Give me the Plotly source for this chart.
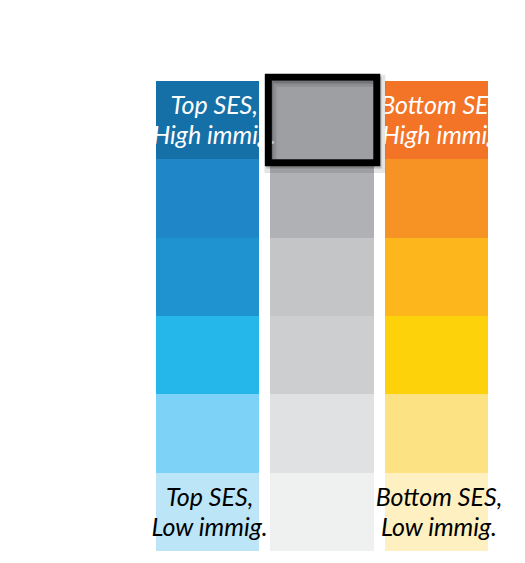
import plotly.graph_objects as go

columns = ["Top SES", "Middle", "Bottom SES"]
# rows from bottom (low immigration) to top (high immigration)
row_values = [1, 1, 1, 1, 1, 1]
blue = ["#bde5f8", "#7dd3f7", "#25b6ea", "#1e93d0", "#1f87c8", "#1670a8"]
gray = ["#eff0f0", "#e0e1e3", "#cdced0", "#c4c5c7", "#b0b1b5", "#9e9fa3"]
orange = ["#fef0c0", "#fde283", "#fdd20b", "#fdb71c", "#f79325", "#f37327"]

top_labels = [["Top SES,", "High immig."], None, ["Bottom SES,", "High immig."]]
bottom_labels = [["Top SES,", "Low immig."], None, ["Bottom SES,", "Low immig."]]
highlight_col = 1
highlight_row = 5

xs = list(range(len(columns)))
fig = go.Figure()
for i, v in enumerate(row_values):
    fig.add_trace(go.Bar(
        x=xs, y=[v] * len(xs),
        marker=dict(color=[blue[i], gray[i], orange[i]], line=dict(width=0)),
        hoverinfo="skip", showlegend=False,
    ))

LINE_OFF = 0.19  # half line spacing in row units
V_ADJ = 0.035    # small downward nudge of the label block

def add_label(c, yc, lines, color, dx):
    yc = yc - V_ADJ
    fig.add_trace(go.Scatter(
        x=[c + dx, c + dx], y=[yc + LINE_OFF, yc - LINE_OFF], mode="text",
        text=["<i>" + s + "</i>" for s in lines],
        textposition="middle center", cliponaxis=False,
        textfont=dict(family="Lato", size=25, color=color),
        hoverinfo="skip", showlegend=False,
    ))

for c, t in enumerate(top_labels):
    if t:
        add_label(c, highlight_row + 0.5, t, "white", 0.06)
for c, t in enumerate(bottom_labels):
    if t:
        add_label(c, 0.5, t, "black", 0.02)

hx = highlight_col
hy = highlight_row
shapes = [
    # soft shadow
    dict(type="rect", xref="x", yref="y", x0=hx - 0.45, x1=hx + 0.5,
         y0=hy - 0.1, y1=hy + 1.0, line=dict(width=12, color="rgba(0,0,0,0.10)"),
         fillcolor="rgba(0,0,0,0)"),
    dict(type="rect", xref="x", yref="y", x0=hx - 0.455, x1=hx + 0.49,
         y0=hy - 0.075, y1=hy + 1.01, line=dict(width=7, color="rgba(0,0,0,0.18)"),
         fillcolor="rgba(0,0,0,0)"),
    # black border
    dict(type="rect", xref="x", yref="y", x0=hx - 0.468, x1=hx + 0.478,
         y0=hy - 0.045, y1=hy + 1.045, line=dict(width=7, color="black"),
         fillcolor="rgba(0,0,0,0)"),
]

fig.update_layout(
    barmode="stack", bargap=0.1,
    width=525, height=563,
    margin=dict(l=150, r=31, t=69, b=12),
    paper_bgcolor="white", plot_bgcolor="white",
    xaxis=dict(range=[-0.5, 2.5], visible=False, fixedrange=True),
    yaxis=dict(range=[0, 6.15], visible=False, fixedrange=True),
    shapes=shapes,
)
fig.write_html("out.html")
